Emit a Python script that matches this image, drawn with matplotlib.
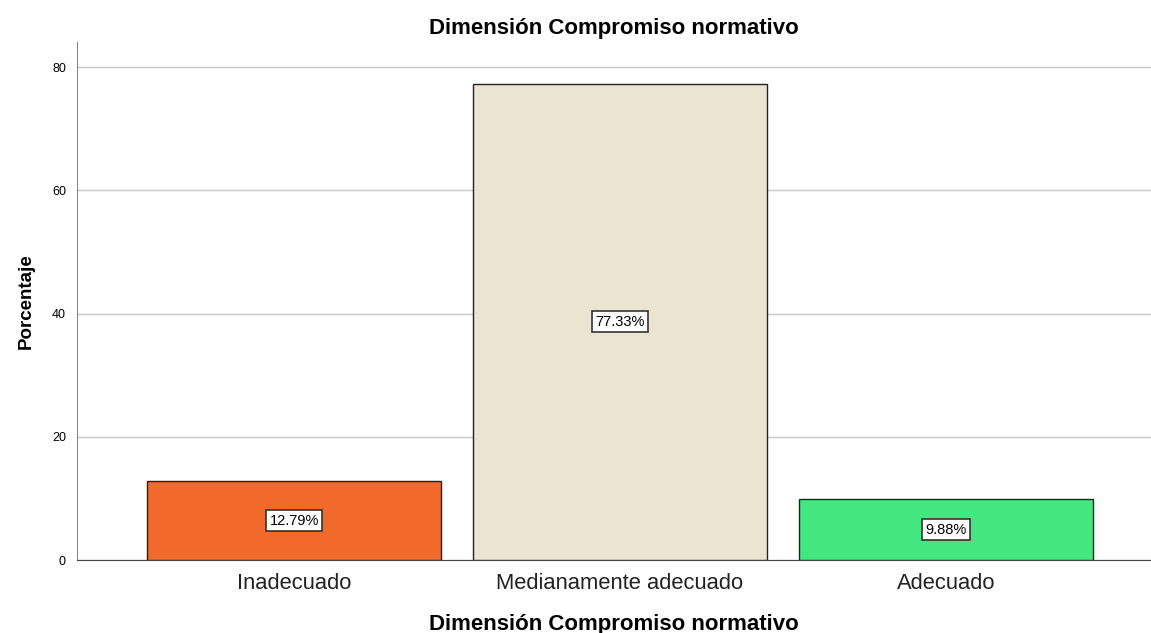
import matplotlib.pyplot as plt
import numpy as np

plt.rcParams['font.family'] = ['Liberation Sans', 'DejaVu Sans']

categorias = ['Inadecuado', 'Medianamente adecuado', 'Adecuado']
porcentajes = [12.79, 77.33, 9.88]
colores = ['#F2692C', '#EAE4D0', '#42E87F']
yticks = [0, 20, 40, 60, 80]

fig = plt.figure(figsize=(11.51, 6.33), dpi=100)
ax = fig.add_axes([0.0669, 0.1153, 0.9331, 0.8183])

x = np.arange(len(categorias))
ax.bar(x, porcentajes, width=0.9, color=colores, edgecolor='#222222', linewidth=1.0, zorder=3)

for xi, v in zip(x, porcentajes):
    ax.text(xi, v / 2, f'{v:.2f}%', ha='center', va='center', fontsize=10.5, zorder=4,
            bbox=dict(boxstyle='square,pad=0.25', facecolor='white', edgecolor='#333333', linewidth=1.2))

ax.set_xlim(-0.666, 2.629)
ax.set_ylim(0, 84.06)
ax.set_yticks(yticks)
ax.yaxis.grid(True, color='#C8C8C8', linewidth=1.0, zorder=0)
ax.set_xticks(x)
ax.set_xticklabels(categorias, fontsize=15.8, color='#222222')
ax.tick_params(axis='x', length=0, pad=9)
ax.tick_params(axis='y', length=0, labelsize=9, pad=8)

for s in ['top', 'right']:
    ax.spines[s].set_visible(False)
ax.spines['left'].set_color('#888888')
ax.spines['bottom'].set_color('#444444')

ax.set_title('Dimensión Compromiso normativo', fontsize=16, fontweight='bold', pad=6)
ax.set_xlabel('Dimensión Compromiso normativo', fontsize=16, fontweight='bold', labelpad=15)
ax.set_ylabel('Porcentaje', fontsize=13.5, fontweight='bold', labelpad=12)

fig.savefig('out.png', dpi=100)
